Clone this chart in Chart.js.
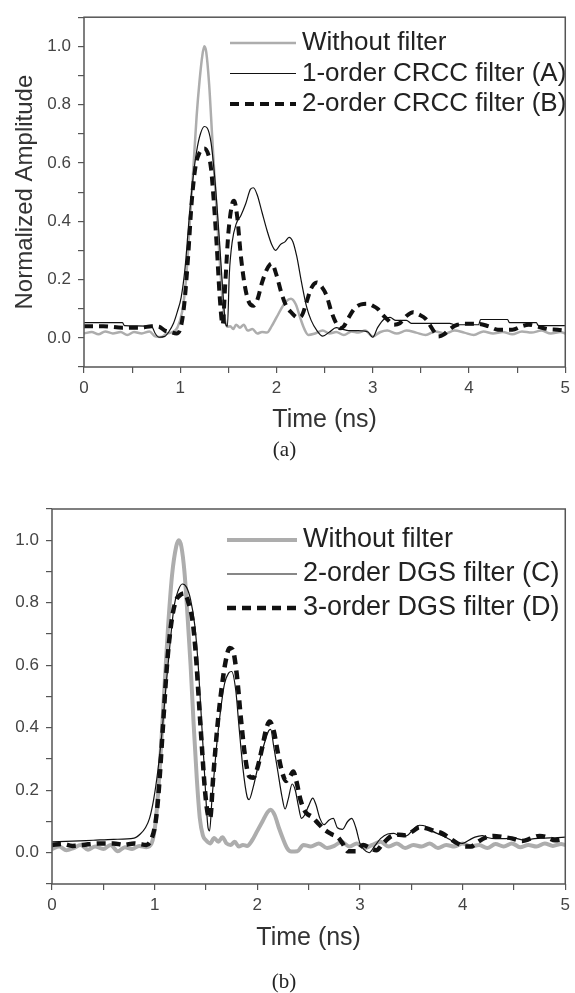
<!DOCTYPE html>
<html>
<head>
<meta charset="utf-8">
<script src="https://cdn.jsdelivr.net/npm/chart.js@4/dist/chart.umd.min.js"></script>
<style>
  body { margin: 0; background: #fff; }
  #wrapA { position: absolute; left: 0; top: 0; width: 575px; height: 470px; }
  #wrapB { position: absolute; left: 0; top: 470px; width: 575px; height: 523px; }
</style>
</head>
<body>
<div id="wrapA"><canvas id="chartA" width="575" height="470"></canvas></div>
<div id="wrapB"><canvas id="chartB" width="575" height="523"></canvas></div>
<script>
// ================= DATA : panel (a) =================
const labelsA = ["Without filter", "1-order CRCC filter (A)", "2-order CRCC filter (B)"];

const tNoFilterA = [0, 0.08, 0.15, 0.22, 0.3, 0.38, 0.45, 0.52, 0.6, 0.68, 0.74, 0.8, 0.86, 0.92, 0.97, 1.02, 1.06, 1.1, 1.13, 1.17, 1.2, 1.23, 1.25, 1.27, 1.3, 1.33, 1.36, 1.4, 1.43, 1.46, 1.49, 1.52, 1.55, 1.58, 1.62, 1.66, 1.7, 1.75, 1.8, 1.85, 1.9, 1.95, 2, 2.05, 2.1, 2.15, 2.2, 2.25, 2.29, 2.33, 2.4, 2.48, 2.55, 2.62, 2.7, 2.78, 2.85, 2.92, 3, 3.08, 3.15, 3.25, 3.35, 3.45, 3.55, 3.65, 3.75, 3.85, 3.95, 4.05, 4.15, 4.25, 4.35, 4.45, 4.55, 4.65, 4.75, 4.85, 4.95, 5];
const vNoFilterA = [0.015, 0.02, 0.012, 0.022, 0.015, 0.02, 0.01, 0.02, 0.015, 0.022, 0.005, 0.003, 0.015, 0.02, 0.035, 0.09, 0.2, 0.4, 0.55, 0.76, 0.88, 0.97, 1.0, 0.98, 0.87, 0.7, 0.53, 0.32, 0.17, 0.07, 0.038, 0.04, 0.03, 0.045, 0.035, 0.045, 0.025, 0.03, 0.015, 0.02, 0.018, 0.04, 0.07, 0.1, 0.125, 0.134, 0.115, 0.065, 0.03, 0.01, 0.015, 0.025, 0.015, 0.02, 0.01, 0.022, 0.018, 0.025, 0.005, 0.02, 0.025, 0.015, 0.025, 0.018, 0.01, 0.022, 0.015, 0.025, 0.018, 0.01, 0.022, 0.015, 0.02, 0.012, 0.022, 0.018, 0.025, 0.015, 0.02, 0.015];

const tCrcc1 = [0, 0.4, 0.42, 0.7, 0.74, 0.78, 0.84, 0.88, 0.93, 0.97, 1.01, 1.05, 1.09, 1.13, 1.17, 1.21, 1.25, 1.28, 1.32, 1.35, 1.38, 1.41, 1.44, 1.47, 1.49, 1.51, 1.54, 1.58, 1.63, 1.68, 1.73, 1.76, 1.8, 1.85, 1.9, 1.95, 1.99, 2.04, 2.09, 2.13, 2.17, 2.21, 2.26, 2.31, 2.36, 2.42, 2.48, 2.55, 2.62, 2.68, 2.75, 2.85, 2.95, 3, 3.05, 3.12, 3.18, 3.24, 3.35, 3.4, 3.8, 3.85, 4.1, 4.12, 4.4, 4.42, 4.7, 4.72, 5];
const vCrcc1 = [0.052, 0.052, 0.042, 0.04, 0.015, 0.002, 0.005, 0.02, 0.05, 0.09, 0.14, 0.24, 0.4, 0.54, 0.64, 0.7, 0.725, 0.72, 0.67, 0.58, 0.46, 0.32, 0.17, 0.05, 0.04, 0.22, 0.33, 0.39, 0.42, 0.46, 0.51, 0.515, 0.49, 0.43, 0.37, 0.32, 0.3, 0.32, 0.33, 0.345, 0.33, 0.28, 0.19, 0.11, 0.06, 0.025, 0.006, 0.02, 0.035, 0.03, 0.025, 0.025, 0.02, 0.002, 0.035, 0.065, 0.07, 0.06, 0.06, 0.05, 0.05, 0.045, 0.045, 0.063, 0.063, 0.052, 0.052, 0.042, 0.042];

const tCrcc2 = [0, 0.2, 0.4, 0.6, 0.7, 0.78, 0.84, 0.9, 0.96, 1, 1.04, 1.08, 1.12, 1.16, 1.2, 1.25, 1.29, 1.32, 1.35, 1.38, 1.41, 1.44, 1.47, 1.5, 1.54, 1.56, 1.59, 1.63, 1.67, 1.71, 1.76, 1.8, 1.85, 1.9, 1.95, 2, 2.05, 2.1, 2.16, 2.22, 2.26, 2.31, 2.36, 2.42, 2.47, 2.52, 2.57, 2.62, 2.66, 2.7, 2.75, 2.81, 2.88, 2.95, 3, 3.05, 3.1, 3.16, 3.22, 3.28, 3.35, 3.42, 3.48, 3.55, 3.62, 3.68, 3.74, 3.8, 3.88, 3.98, 4.1, 4.2, 4.3, 4.45, 4.55, 4.62, 4.72, 4.82, 4.92, 5];
const vCrcc2 = [0.04, 0.04, 0.035, 0.035, 0.04, 0.038, 0.025, 0.02, 0.015, 0.03, 0.11, 0.27, 0.47, 0.59, 0.635, 0.65, 0.63, 0.58, 0.46, 0.31, 0.14, 0.045, 0.2, 0.36, 0.46, 0.47, 0.42, 0.28, 0.18, 0.125, 0.11, 0.13, 0.19, 0.235, 0.255, 0.215, 0.155, 0.11, 0.085, 0.07, 0.075, 0.12, 0.17, 0.19, 0.175, 0.145, 0.09, 0.05, 0.033, 0.04, 0.07, 0.1, 0.115, 0.117, 0.11, 0.1, 0.08, 0.06, 0.045, 0.05, 0.075, 0.088, 0.08, 0.065, 0.03, 0.005, 0.012, 0.03, 0.045, 0.048, 0.048, 0.04, 0.028, 0.028, 0.04, 0.045, 0.038, 0.03, 0.028, 0.025];

// ================= DATA : panel (b) =================
const labelsB = ["Without filter", "2-order DGS filter (C)", "3-order DGS filter (D)"];

const tNoFilterB = [0, 0.07, 0.14, 0.21, 0.28, 0.35, 0.42, 0.5, 0.57, 0.64, 0.71, 0.78, 0.85, 0.92, 0.97, 1.01, 1.05, 1.09, 1.13, 1.17, 1.21, 1.235, 1.26, 1.29, 1.32, 1.35, 1.38, 1.41, 1.44, 1.47, 1.5, 1.54, 1.58, 1.62, 1.66, 1.7, 1.74, 1.78, 1.82, 1.86, 1.9, 1.95, 2, 2.05, 2.1, 2.13, 2.17, 2.21, 2.25, 2.29, 2.33, 2.39, 2.45, 2.52, 2.6, 2.68, 2.75, 2.82, 2.9, 2.97, 3.05, 3.12, 3.2, 3.28, 3.36, 3.44, 3.52, 3.6, 3.68, 3.76, 3.84, 3.92, 4, 4.08, 4.16, 4.24, 4.32, 4.4, 4.48, 4.56, 4.64, 4.72, 4.8, 4.88, 4.96, 5];
const vNoFilterB = [0.012, 0.02, 0.008, 0.015, 0.025, 0.01, 0.02, 0.012, 0.025, 0.005, 0.018, 0.012, 0.022, 0.018, 0.03, 0.1, 0.27, 0.5, 0.72, 0.89, 0.98, 1.0, 0.98, 0.9, 0.76, 0.6, 0.41, 0.24, 0.11, 0.055, 0.04, 0.03, 0.047, 0.035, 0.05, 0.03, 0.025, 0.035, 0.02, 0.025, 0.022, 0.04, 0.07, 0.1, 0.13, 0.138, 0.12, 0.08, 0.045, 0.015, 0.004, 0.005, 0.025, 0.02, 0.03, 0.015, 0.022, 0.035, 0.02, 0.03, 0.015, 0.025, 0.035, 0.02, 0.03, 0.015, 0.025, 0.02, 0.03, 0.015, 0.025, 0.02, 0.03, 0.02, 0.025, 0.015, 0.028, 0.02, 0.03, 0.018, 0.025, 0.02, 0.03, 0.022, 0.028, 0.025];

const tDgs2 = [0, 0.2, 0.4, 0.6, 0.8, 0.86, 0.91, 0.95, 0.99, 1.03, 1.07, 1.11, 1.15, 1.19, 1.23, 1.27, 1.31, 1.35, 1.39, 1.42, 1.45, 1.48, 1.5, 1.52, 1.535, 1.56, 1.6, 1.64, 1.68, 1.72, 1.75, 1.79, 1.82, 1.86, 1.9, 1.92, 1.96, 2.01, 2.06, 2.11, 2.13, 2.16, 2.2, 2.24, 2.27, 2.3, 2.34, 2.37, 2.4, 2.43, 2.46, 2.5, 2.54, 2.57, 2.61, 2.65, 2.7, 2.74, 2.78, 2.83, 2.88, 2.92, 2.96, 3, 3.04, 3.09, 3.14, 3.2, 3.27, 3.33, 3.4, 3.46, 3.52, 3.58, 3.64, 3.7, 3.78, 3.86, 3.94, 4, 4.06, 4.12, 4.19, 4.25, 4.32, 4.4, 4.5, 4.6, 4.7, 4.8, 4.9, 5];
const vDgs2 = [0.035, 0.037, 0.04, 0.043, 0.047, 0.06, 0.08, 0.11, 0.17, 0.26, 0.38, 0.53, 0.67, 0.79, 0.84, 0.86, 0.85, 0.81, 0.73, 0.62, 0.46, 0.29, 0.17, 0.08, 0.07, 0.18, 0.33, 0.45, 0.54, 0.575, 0.58, 0.52, 0.41, 0.27, 0.18, 0.17, 0.21, 0.28, 0.34, 0.39, 0.395, 0.34, 0.26, 0.18, 0.14, 0.17, 0.22, 0.2, 0.15, 0.11, 0.12, 0.15, 0.175, 0.155, 0.11, 0.09, 0.105, 0.11, 0.08, 0.075, 0.1, 0.11, 0.08, 0.03, 0.01, 0.0, 0.02, 0.045, 0.06, 0.062, 0.052, 0.055, 0.075, 0.088, 0.085, 0.07, 0.058, 0.045, 0.032, 0.03, 0.04, 0.05, 0.055, 0.048, 0.045, 0.045, 0.047, 0.04, 0.045, 0.047, 0.048, 0.05];

const tDgs3 = [0, 0.1, 0.2, 0.3, 0.45, 0.6, 0.7, 0.8, 0.85, 0.92, 0.97, 1.01, 1.04, 1.08, 1.12, 1.16, 1.2, 1.25, 1.29, 1.33, 1.37, 1.4, 1.43, 1.46, 1.49, 1.52, 1.54, 1.57, 1.61, 1.65, 1.69, 1.73, 1.76, 1.8, 1.84, 1.88, 1.92, 1.96, 2, 2.05, 2.09, 2.12, 2.16, 2.2, 2.24, 2.28, 2.32, 2.35, 2.38, 2.42, 2.47, 2.53, 2.59, 2.65, 2.72, 2.79, 2.84, 2.88, 2.96, 3.03, 3.1, 3.16, 3.22, 3.3, 3.38, 3.44, 3.52, 3.58, 3.65, 3.72, 3.8, 3.88, 3.95, 4.03, 4.08, 4.15, 4.22, 4.3, 4.4, 4.48, 4.58, 4.66, 4.75, 4.82, 4.9, 5];
const vDgs3 = [0.025, 0.028, 0.022, 0.025, 0.03, 0.03, 0.025, 0.03, 0.028, 0.025, 0.045, 0.1, 0.2, 0.4, 0.6, 0.73, 0.8, 0.825, 0.83, 0.8, 0.74, 0.64, 0.49, 0.34, 0.2, 0.12, 0.11, 0.24, 0.4, 0.52, 0.61, 0.655, 0.65, 0.57, 0.43, 0.31, 0.245, 0.24, 0.27, 0.34, 0.4, 0.42, 0.39, 0.32, 0.26, 0.23, 0.245, 0.26, 0.23, 0.17, 0.13, 0.115, 0.095, 0.075, 0.06, 0.048, 0.025, 0.005, 0.005, 0.025, 0.015, 0.008, 0.028, 0.052, 0.058, 0.056, 0.07, 0.082, 0.078, 0.07, 0.062, 0.045, 0.03, 0.02, 0.02, 0.035, 0.048, 0.054, 0.05, 0.046, 0.038, 0.045, 0.054, 0.05, 0.04, 0.045];

// ================= HELPERS =================
const GRAY = "#adadad";
const BLACK = "#111111";
const AXIS = "#555555";

function pts(ts, vs) {
  return ts.map((t, i) => ({ x: t, y: vs[i] }));
}

function series(label, ts, vs, color, width, dash, order) {
  return {
    label: label,
    data: pts(ts, vs),
    borderColor: color,
    borderWidth: width,
    borderDash: dash,
    pointRadius: 0,
    fill: false,
    cubicInterpolationMode: "monotone",
    order: order
  };
}

// legend drawn inside the plot, using each dataset's own line style
const insideLegend = {
  id: "insideLegend",
  afterDatasetsDraw(chart, args, opts) {
    const ctx = chart.ctx;
    ctx.save();
    ctx.font = opts.font;
    ctx.fillStyle = "#222";
    ctx.textBaseline = "middle";
    chart.data.datasets.forEach((ds, i) => {
      const y = opts.y + i * opts.spacing;
      ctx.strokeStyle = ds.borderColor;
      ctx.lineWidth = ds.borderWidth;
      ctx.setLineDash(ds.borderDash || []);
      ctx.beginPath();
      ctx.moveTo(opts.x1, y);
      ctx.lineTo(opts.x2, y);
      ctx.stroke();
      ctx.setLineDash([]);
      ctx.fillText(ds.label, opts.x2 + opts.gap, y);
    });
    ctx.restore();
  }
};

// box round the plot area
const frame = {
  id: "frame",
  afterDraw(chart) {
    const a = chart.chartArea;
    const ctx = chart.ctx;
    ctx.save();
    ctx.strokeStyle = AXIS;
    ctx.lineWidth = 1.5;
    ctx.strokeRect(a.left, a.top, a.right - a.left, a.bottom - a.top);
    ctx.restore();
  }
};

function makeOptions(cfg) {
  return {
    responsive: false,
    animation: false,
    devicePixelRatio: 1,
    layout: { padding: { top: cfg.padTop, right: cfg.padRight, left: 0, bottom: 0 } },
    plugins: {
      legend: { display: false },
      tooltip: { enabled: false },
      title: {
        display: true,
        position: "bottom",
        text: cfg.caption,
        color: "#222",
        font: { family: "Liberation Serif", size: 21, weight: "normal", lineHeight: 1 },
        padding: { top: 0, bottom: cfg.capPad }
      },
      insideLegend: cfg.legend
    },
    scales: {
      x: {
        type: "linear",
        min: 0,
        max: 5,
        border: { display: false },
        grid: { drawOnChartArea: false, color: AXIS, lineWidth: 1.2, tickLength: 6 },
        ticks: {
          stepSize: 0.5,
          autoSkip: false,
          maxRotation: 0,
          padding: 5,
          color: "#444",
          font: { family: "Liberation Sans", size: 17 },
          callback: (v) => (Number.isInteger(v) ? String(v) : "")
        },
        title: {
          display: true,
          text: "Time (ns)",
          color: "#333",
          font: { family: "Liberation Sans", size: 25 },
          padding: { top: 0, bottom: cfg.xTitlePad }
        },
        afterFit: (s) => { s.height = cfg.xHeight; }
      },
      y: {
        min: -0.1,
        max: 1.1,
        border: { display: false },
        grid: { drawOnChartArea: false, color: AXIS, lineWidth: 1.2, tickLength: 6 },
        ticks: {
          stepSize: 0.1,
          autoSkip: false,
          padding: 7,
          color: "#444",
          font: { family: "Liberation Sans", size: 17 },
          callback: (v) => {
            const k = Math.round(v * 10);
            return k >= 0 && k <= 10 && k % 2 === 0 ? (k / 10).toFixed(1) : "";
          }
        },
        title: {
          display: cfg.yTitle !== "",
          text: cfg.yTitle,
          color: "#333",
          font: { family: "Liberation Sans", size: 24 },
          padding: { top: 11, bottom: 0 }
        },
        afterFit: (s) => { s.width = cfg.yWidth; }
      }
    }
  };
}

// ================= CHART (a) =================
new Chart(document.getElementById("chartA").getContext("2d"), {
  type: "line",
  data: {
    datasets: [
      series(labelsA[0], tNoFilterA, vNoFilterA, GRAY, 2.5, [], 3),
      series(labelsA[1], tCrcc1, vCrcc1, BLACK, 1.2, [], 2),
      series(labelsA[2], tCrcc2, vCrcc2, BLACK, 4, [9, 6], 1)
    ]
  },
  options: makeOptions({
    padTop: 14, padRight: 6, caption: "(a)", capPad: 9.5,
    xHeight: 72.5, xTitlePad: 4.5, yWidth: 84, yTitle: "Normalized Amplitude",
    legend: { x1: 230, x2: 296, gap: 6, y: 43, spacing: 30.5, font: "26px 'Liberation Sans'" }
  }),
  plugins: [insideLegend, frame]
});

// ================= CHART (b) =================
new Chart(document.getElementById("chartB").getContext("2d"), {
  type: "line",
  data: {
    datasets: [
      series(labelsB[0], tNoFilterB, vNoFilterB, GRAY, 4, [], 3),
      series(labelsB[1], tDgs2, vDgs2, BLACK, 1.2, [], 2),
      series(labelsB[2], tDgs3, vDgs3, BLACK, 4.5, [9, 6], 1)
    ]
  },
  options: makeOptions({
    padTop: 39, padRight: 7, caption: "(b)", capPad: 0,
    xHeight: 88, xTitlePad: 19, yWidth: 52, yTitle: "",
    legend: { x1: 227, x2: 297, gap: 6, y: 70, spacing: 34, font: "27px 'Liberation Sans'" }
  }),
  plugins: [insideLegend, frame]
});
</script>
</body>
</html>
